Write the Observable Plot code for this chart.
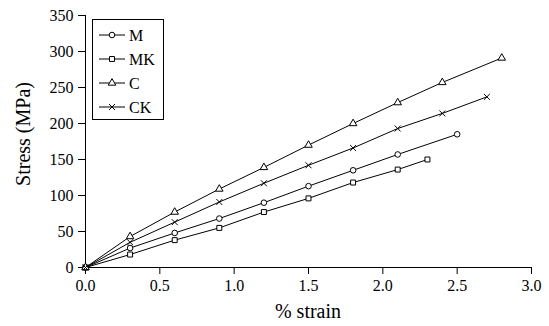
<!DOCTYPE html>
<html>
<head>
<meta charset="utf-8">
<script src="https://cdn.jsdelivr.net/npm/d3@7"></script>
<script src="https://cdn.jsdelivr.net/npm/@observablehq/plot@0.6"></script>
<style>
  html, body { margin: 0; padding: 0; background: #fff; }
  #chart { width: 549px; height: 326px; }
  #chart svg, #chart svg text { font-family: 'Liberation Serif', 'Times New Roman', serif !important; }
  #chart svg text { font-size: 16px !important; }
  #chart svg text.axislabel { font-size: 20px !important; }
</style>
</head>
<body>
<div id="chart"></div>
<script>
const seriesNames = ["M", "MK", "C", "CK"];
const symbols = ["circle", "square", "triangle", "times"];

const strainM  = [0, 0.3, 0.6, 0.9, 1.2, 1.5, 1.8, 2.1, 2.5];
const stressM  = [0, 27, 48, 68, 90, 113, 135, 157, 185];
const strainMK = [0, 0.3, 0.6, 0.9, 1.2, 1.5, 1.8, 2.1, 2.3];
const stressMK = [0, 18, 38, 55, 77, 96, 118, 136, 150];
const strainC  = [0, 0.3, 0.6, 0.9, 1.2, 1.5, 1.8, 2.1, 2.4, 2.8];
const stressC  = [0, 43, 77, 109, 139, 170, 200, 229, 257, 291];
const strainCK = [0, 0.3, 0.6, 0.9, 1.2, 1.5, 1.8, 2.1, 2.4, 2.7];
const stressCK = [0, 35, 63, 91, 117, 142, 166, 193, 214, 237];

const xTicks = [0, 0.5, 1.0, 1.5, 2.0, 2.5, 3.0];
const yTicks = [0, 50, 100, 150, 200, 250, 300, 350];

const xs = [strainM, strainMK, strainC, strainCK];
const ys = [stressM, stressMK, stressC, stressCK];
const data = seriesNames.flatMap((s, i) => xs[i].map((x, j) => ({series: s, strain: x, stress: ys[i][j]})));

const font = "'Liberation Serif', 'Times New Roman', serif";
const R = 2.8;

const plot = Plot.plot({
  width: 549,
  height: 326,
  marginLeft: 85,
  marginRight: 18,
  marginTop: 15,
  marginBottom: 59,
  style: {fontFamily: font, fontSize: "16px", color: "#000", background: "#fff"},
  x: {domain: [0, 3], ticks: xTicks, tickFormat: d3.format(".1f"), label: null, tickSize: 7, tickPadding: 5},
  y: {domain: [0, 350], ticks: yTicks, label: null, tickSize: 7, tickPadding: 5},
  symbol: {domain: seriesNames, range: symbols},
  marks: [
    Plot.ruleY([0], {stroke: "#000"}),
    Plot.ruleX([0], {stroke: "#000"}),
    Plot.line(data, {x: "strain", y: "stress", z: "series", stroke: "#000", strokeWidth: 1}),
    Plot.dot(data, {x: "strain", y: "stress", symbol: "series", stroke: "#000", fill: "#fff", r: R, strokeWidth: 1})
  ]
});

document.getElementById("chart").appendChild(plot);

// axis labels and legend
const svg = d3.select(plot);
const xs_ = plot.scale("x"), ys_ = plot.scale("y");
const xMid = (xs_.range[0] + xs_.range[1]) / 2;
const yMid = (ys_.range[0] + ys_.range[1]) / 2;

svg.append("text").attr("class", "axislabel")
  .attr("x", xMid).attr("y", 318)
  .attr("text-anchor", "middle")
  .attr("fill", "#000")
  .text("% strain");

svg.append("text").attr("class", "axislabel")
  .attr("transform", `translate(30,${yMid - 7}) rotate(-90)`)
  .attr("text-anchor", "middle")
  .attr("fill", "#000")
  .text("Stress (MPa)");

const lg = svg.append("g");
lg.append("rect").attr("x", 92.5).attr("y", 19.5).attr("width", 71).attr("height", 100)
  .attr("fill", "#fff").attr("stroke", "#000");
const symMap = {circle: d3.symbolCircle, square: d3.symbolSquare, triangle: d3.symbolTriangle, times: d3.symbolTimes};
seriesNames.forEach((s, i) => {
  const cy = 35 + i * 24;
  lg.append("line").attr("x1", 99).attr("x2", 125).attr("y1", cy).attr("y2", cy).attr("stroke", "#000");
  lg.append("path").attr("transform", `translate(112,${cy})`)
    .attr("d", d3.symbol(symMap[symbols[i]], R * R * Math.PI)())
    .attr("fill", "#fff").attr("stroke", "#000");
  lg.append("text").attr("x", 129).attr("y", cy).attr("dy", "0.35em")
    .attr("text-anchor", "start")
    .attr("fill", "#000")
    .text(s);
});
</script>
</body>
</html>
